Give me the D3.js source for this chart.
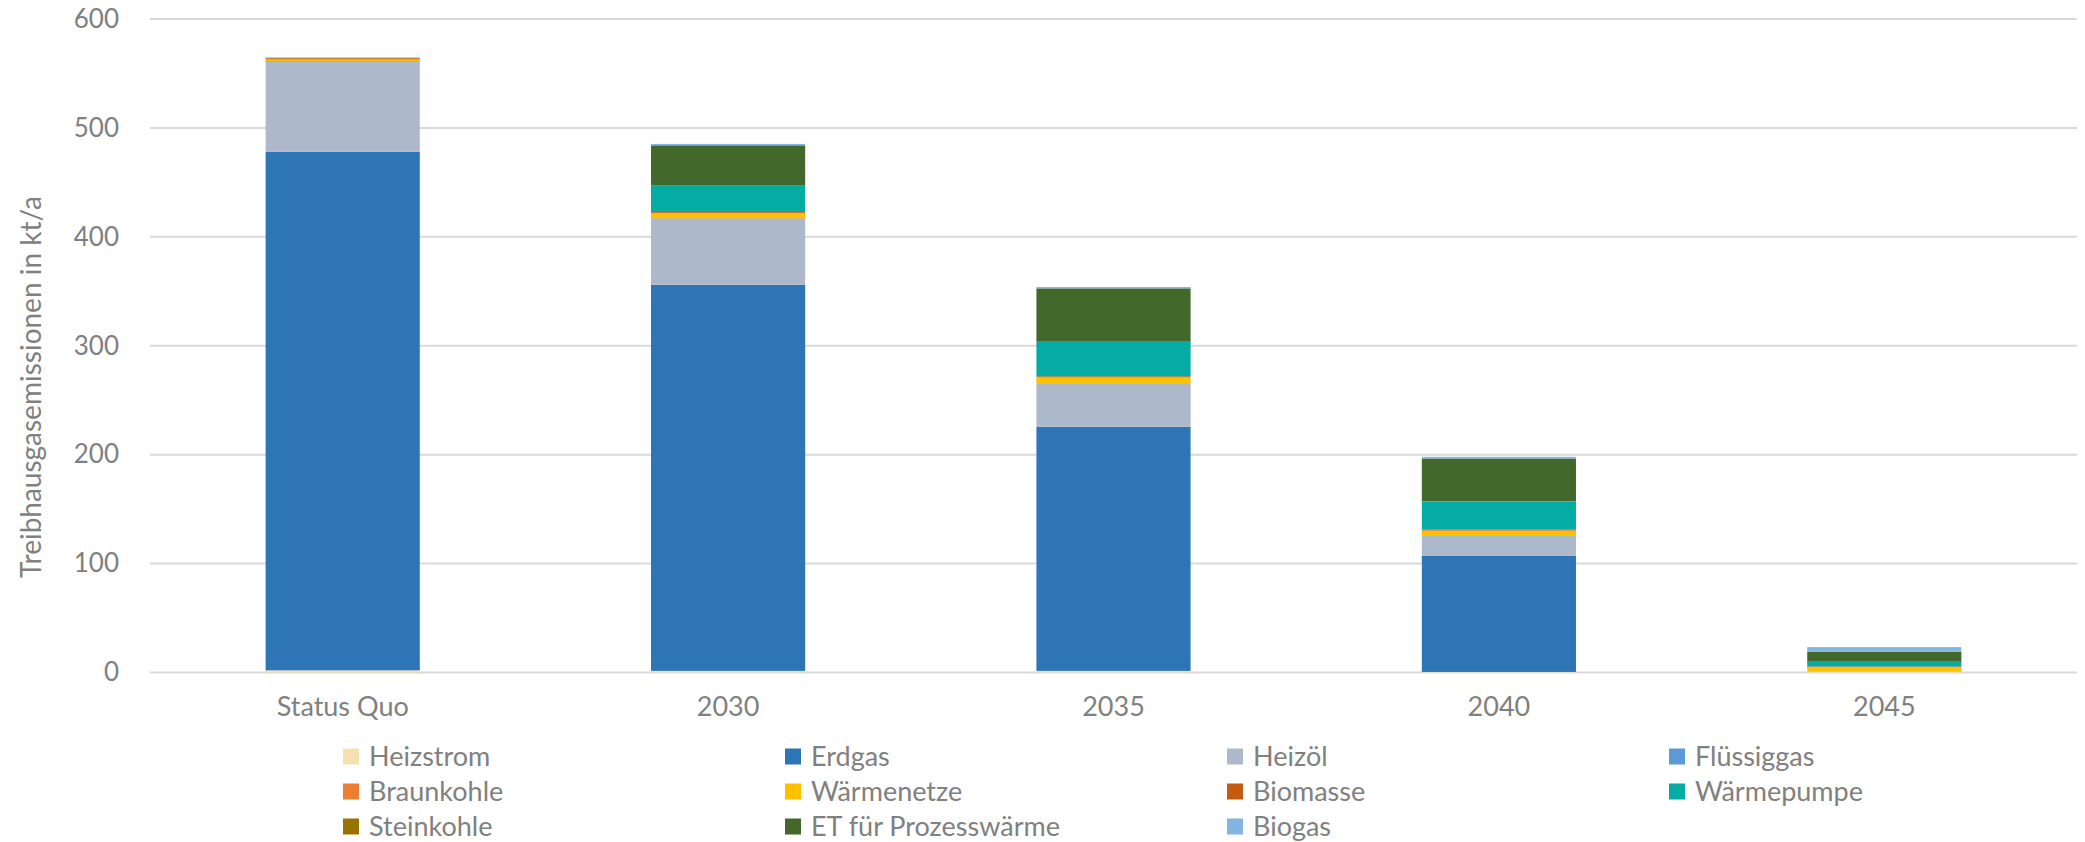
<!DOCTYPE html>
<html>
<head>
<meta charset="utf-8">
<script src="https://cdn.jsdelivr.net/npm/d3@7"></script>
<style>
  body { margin: 0; background: #fff; }
  svg text { font-family: Lato, "Open Sans", sans-serif; fill: #808080; }
</style>
</head>
<body>
<svg id="chart"></svg>
<script>
// categories and series (kt/a)
const categories = ['Status Quo', '2030', '2035', '2040', '2045'];
const seriesNames = ['Heizstrom', 'Erdgas', 'Heizöl', 'Flüssiggas', 'Braunkohle', 'Wärmenetze',
    'Biomasse', 'Wärmepumpe', 'Steinkohle', 'ET für Prozesswärme', 'Biogas'];

const heizstrom   = [2.0, 1.5, 1.5, 0.5, 1.0];
const erdgas      = [476, 354.5, 224, 106.5, 0];
const heizoel     = [82.3, 60, 39.5, 18, 0];
const fluessiggas = [0.8, 0.8, 0.5, 0.3, 0.3];
const braunkohle  = [0.3, 0.2, 0, 0, 0];
const waermenetze = [1.5, 5, 5.5, 5, 3.7];
const biomasse    = [1.0, 0.8, 1, 1, 0.6];
const waermepumpe = [0, 24, 31.5, 25.7, 4.3];
const steinkohle  = [0.6, 0.2, 0.2, 0.2, 0];
const etProzess   = [0, 37, 49, 39.3, 9.2];
const biogas      = [0, 1.3, 1.2, 1.5, 4.2];

const yTicks = [0, 100, 200, 300, 400, 500, 600];

const colors = {
    'Heizstrom': '#F6DFB1',
    'Erdgas': '#2E75B6',
    'Heizöl': '#ADB9CA',
    'Flüssiggas': '#5B9BD5',
    'Braunkohle': '#ED7D31',
    'Wärmenetze': '#FFC000',
    'Biomasse': '#C55A11',
    'Wärmepumpe': '#05ACA4',
    'Steinkohle': '#997300',
    'ET für Prozesswärme': '#43682B',
    'Biogas': '#84B4E1'
};

const seriesValues = [heizstrom, erdgas, heizoel, fluessiggas, braunkohle, waermenetze,
    biomasse, waermepumpe, steinkohle, etProzess, biogas];

// build rows for d3.stack
const rows = categories.map((c, i) => {
    const row = { category: c };
    seriesNames.forEach((s, j) => { row[s] = seriesValues[j][i]; });
    return row;
});

const width = 2085;
const height = 842;
const plot = { left: 150, right: 2077, top: 19, bottom: 672.5 };

const svg = d3.select('#chart')
    .attr('width', width)
    .attr('height', height);

const x = d3.scaleBand()
    .domain(categories)
    .range([plot.left, plot.right])
    .paddingInner(0.6)
    .paddingOuter(0.3);

const y = d3.scaleLinear()
    .domain([0, 600])
    .range([plot.bottom, plot.top]);

// gridlines
svg.append('g')
    .selectAll('line')
    .data(yTicks)
    .enter().append('line')
      .attr('x1', plot.left)
      .attr('x2', plot.right)
      .attr('y1', d => y(d))
      .attr('y2', d => y(d))
      .attr('stroke', '#d9d9d9')
      .attr('stroke-width', 2);

// y axis labels
const yAxis = svg.append('g')
    .attr('transform', `translate(${plot.left},0)`)
    .call(d3.axisLeft(y).tickValues(yTicks).tickSize(0).tickPadding(31));
yAxis.select('.domain').remove();
yAxis.selectAll('text')
    .attr('fill', '#808080')
    .style('font-size', '26px');

// stacked bars
const stack = d3.stack().keys(seriesNames);
const layers = stack(rows);

svg.append('g')
    .selectAll('g')
    .data(layers)
    .enter().append('g')
      .attr('fill', d => colors[d.key])
    .selectAll('rect')
    .data(d => d)
    .enter().append('rect')
      .attr('x', d => x(d.data.category))
      .attr('width', x.bandwidth())
      .attr('y', d => y(d[1]))
      .attr('height', d => Math.max(0, y(d[0]) - y(d[1])));

// x axis labels
const xAxis = svg.append('g')
    .attr('transform', `translate(0,${plot.bottom})`)
    .call(d3.axisBottom(x).tickSize(0).tickPadding(24));
xAxis.select('.domain').remove();
xAxis.selectAll('text')
    .attr('fill', '#808080')
    .style('font-size', '27px');

// y axis title
svg.append('text')
    .attr('transform', 'translate(41,387) rotate(-90)')
    .attr('text-anchor', 'middle')
    .style('font-size', '28px')
    .text('Treibhausgasemissionen  in kt/a');

// legend: 4 columns, row-wise order
const legend = svg.append('g');
const item = legend.selectAll('g')
    .data(seriesNames)
    .enter().append('g')
      .attr('transform', (d, i) => `translate(${343 + (i % 4) * 442},${756.5 + Math.floor(i / 4) * 35})`);

item.append('rect')
    .attr('x', 0)
    .attr('y', -8)
    .attr('width', 16)
    .attr('height', 16)
    .attr('fill', d => colors[d]);

item.append('text')
    .attr('x', 26)
    .attr('dy', '0.35em')
    .style('font-size', '27px')
    .text(d => d);
</script>
</body>
</html>
